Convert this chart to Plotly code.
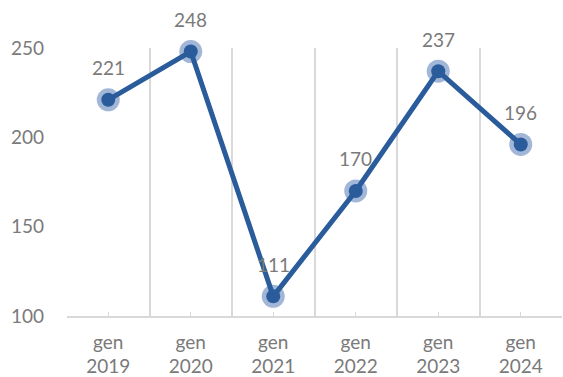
import plotly.graph_objects as go

# Monthly values for January of each year
categories = ["gen<br>2019", "gen<br>2020", "gen<br>2021", "gen<br>2022", "gen<br>2023", "gen<br>2024"]
values = [221, 248, 111, 170, 237, 196]
y_ticks = [100, 150, 200, 250]

x_idx = list(range(len(categories)))

LINE_BLUE = "#2A5B9B"
HALO_BLUE = "rgba(70,110,175,0.50)"
TEXT_GREY = "#7A7A7A"
GRID_GREY = "#D9D9D9"
FONT = "Lato, 'Open Sans', sans-serif"

fig = go.Figure()

# soft halo around each marker
fig.add_trace(go.Scatter(
    x=x_idx, y=values, mode="markers",
    marker=dict(size=23, color=HALO_BLUE, line=dict(width=0)),
    hoverinfo="skip", showlegend=False, cliponaxis=False,
))

# main line with solid markers
fig.add_trace(go.Scatter(
    x=x_idx, y=values, mode="lines+markers",
    line=dict(color=LINE_BLUE, width=5),
    marker=dict(size=14, color=LINE_BLUE, line=dict(width=0)),
    showlegend=False, cliponaxis=False,
))

# value labels above the points
for xi, v in zip(x_idx, values):
    fig.add_annotation(
        x=xi, y=v, text=str(v), showarrow=False, yshift=32,
        font=dict(family=FONT, size=19, color=TEXT_GREY),
    )

fig.update_layout(
    width=563, height=377,
    margin=dict(l=67, r=1, t=48, b=61),
    paper_bgcolor="white", plot_bgcolor="white",
    font=dict(family=FONT, size=18, color=TEXT_GREY),
)

fig.update_xaxes(
    range=[-0.5, len(categories) - 0.5],
    tickmode="array", tickvals=x_idx, ticktext=categories,
    showgrid=False, zeroline=False, automargin=False,
    showline=True, linecolor=GRID_GREY, linewidth=1.5,
    ticks="inside", ticklen=4, tickcolor=GRID_GREY, tickwidth=1,
    tickfont=dict(family=FONT, size=19, color=TEXT_GREY),
    ticklabelstandoff=8,
    minor=dict(tickmode="linear", tick0=-0.5, dtick=1, showgrid=True,
               gridcolor=GRID_GREY, gridwidth=1.5, ticks=""),
)

fig.update_yaxes(
    range=[100, 250],
    tickmode="array", tickvals=y_ticks, automargin=False,
    showgrid=False, zeroline=False, showline=False,
    tickfont=dict(family=FONT, size=19, color=TEXT_GREY),
    ticklabelstandoff=22,
)

fig.write_html("out.html")
